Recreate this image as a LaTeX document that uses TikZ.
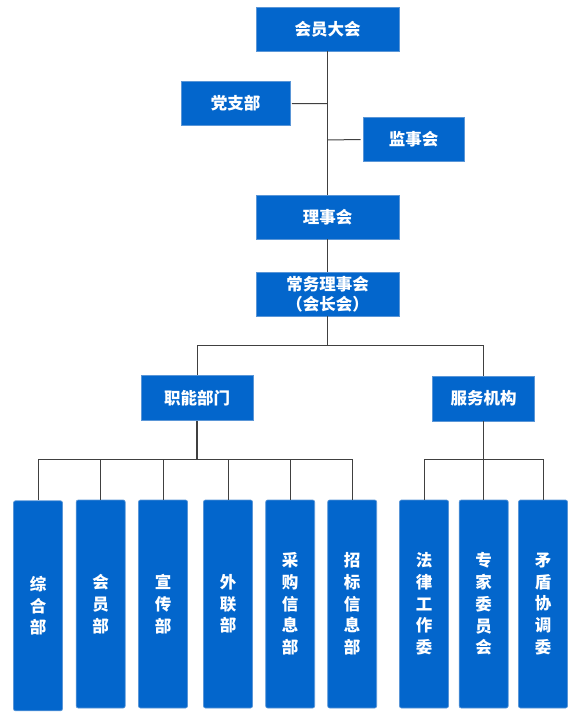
\documentclass[tikz,border=0pt]{standalone}
\usepackage{fontspec}
\newfontfamily\cjk{Noto Sans CJK SC}
\definecolor{boxblue}{RGB}{3,102,204}
\definecolor{boxedge}{RGB}{90,150,215}
\definecolor{linegray}{RGB}{64,64,64}
\begin{document}
\begin{tikzpicture}[x=1pt,y=-1pt,
  hbox/.style={draw=boxedge, line width=0.7pt, fill=boxblue, text=white,
    font=\cjk\bfseries\fontsize{16.5}{20}\selectfont, inner sep=0pt, align=center,
    minimum height=44pt},
  vbox/.style={draw=boxedge, line width=0.7pt, fill=boxblue, text=white, rounded corners=2pt,
    font=\cjk\bfseries\fontsize{16.5}{21.7}\selectfont, inner sep=0pt, align=center,
    minimum width=49pt, minimum height=208pt},
  trunk/.style={draw=linegray, line width=1.4pt},
  branch/.style={draw=linegray, line width=1pt}]
\useasboundingbox (0,0) rectangle (588,727);

% top chain
\node[hbox, minimum width=143pt] (hy) at (327.5,29) {会员大会};
\node[hbox, minimum width=109pt, minimum height=44.5pt] (dz) at (235.5,103.5) {党支部};
\node[hbox, minimum width=101pt, minimum height=44.5pt] (js) at (413.5,139.5) {监事会};
\node[hbox, minimum width=143pt] (ls) at (327.5,217) {理事会};
\node[hbox, minimum width=143pt] (cw) at (327.5,294) {常务理事会\\（会长会）};
\node[hbox, minimum width=112pt, minimum height=45.5pt] (zn) at (197,398) {职能部门};
\node[hbox, minimum width=102pt, minimum height=45pt] (fw) at (483.5,398.5) {服务机构};

% bottom boxes
\node[vbox, minimum height=210pt] (b1) at (38,605.8) {综\\合\\部};
\node[vbox] (b2) at (100.7,604) {会\\员\\部};
\node[vbox] (b3) at (163,604) {宣\\传\\部};
\node[vbox] (b4) at (228,604) {外\\联\\部};
\node[vbox] (b5) at (290.2,604) {采\\购\\信\\息\\部};
\node[vbox] (b6) at (352.2,604) {招\\标\\信\\息\\部};
\node[vbox] (c1) at (424,604) {法\\律\\工\\作\\委};
\node[vbox] (c2) at (483.7,604) {专\\家\\委\\员\\会};
\node[vbox] (c3) at (543,604) {矛\\盾\\协\\调\\委};

% junction coordinates
\coordinate (jdz) at (327.5,103.7);
\coordinate (jjs) at (327.5,140);
\coordinate (jcw) at (327.5,345.7);
\coordinate (jzn) at (197,459.7);
\coordinate (jfw) at (483.5,459.7);

% trunk
\draw[trunk] (hy.south) -- (ls.north);
\draw[trunk] (ls.south) -- (cw.north);
\draw[branch] (dz.east) ++(1.5pt,0) -- (jdz);
\draw[branch] (jjs) -- ([xshift=-2pt]js.west);

% second level
\draw[trunk] (cw.south) -- (jcw);
\draw[branch] (jcw) -| (zn.north);
\draw[branch] (jcw) -| (fw.north);

% third level left
\draw[trunk] (zn.south) -- (jzn);
\foreach \b in {b1,b2,b3,b4,b5,b6} \draw[branch] (jzn) -| (\b.north);
% third level right
\draw[trunk] (fw.south) -- (jfw);
\foreach \c in {c1,c2,c3} \draw[branch] (jfw) -| (\c.north);
\end{tikzpicture}
\end{document}
